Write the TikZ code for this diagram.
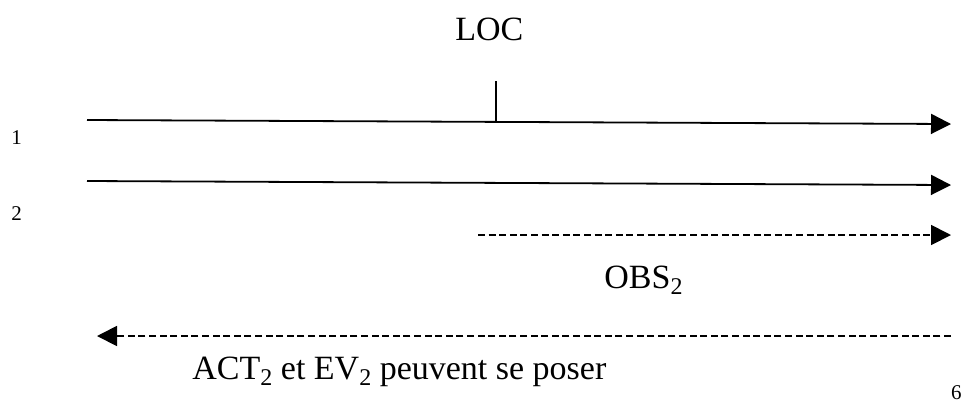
\documentclass[tikz,border=0pt]{standalone}
\usepackage{fontspec}
\setmainfont{Liberation Serif}
\usetikzlibrary{arrows.meta, positioning}
\newcommand\lowtwo[1]{\raisebox{-3pt}{\fontsize{12}{12}\selectfont #1}}
\tikzset{
	>={Triangle[length=10pt,width=10pt]},
	line/.style={draw, line width=0.9pt, ->},
	dashline/.style={line, dash pattern=on 3.5pt off 1.8pt},
	tick/.style={draw, line width=0.8pt},
	txt/.style={inner sep=0pt, anchor=base west, font=\fontsize{17}{19}\selectfont},
	num/.style={inner sep=0pt, anchor=base west, font=\fontsize{10.5}{12}\selectfont},
}
\begin{document}
\begin{tikzpicture}[x=0.5pt, y=-0.5pt]
	\useasboundingbox (0,0) rectangle (962,403);
	% lines
	\coordinate (l1s) at (87,120);
	\coordinate (l1e) at (951,124);
	\coordinate (l2s) at (87,181);
	\coordinate (l2e) at (951,185);
	\coordinate (obss) at (478,235);
	\coordinate (obse) at (951,235);
	\coordinate (acts) at (951,336);
	\coordinate (acte) at (97,336);
	\coordinate (loct) at (496,81);
	\coordinate (locb) at (496,122);

	\draw [line] (l1s) -- (l1e);
	\draw [line] (l2s) -- (l2e);
	\draw [dashline] (obss) -- (obse);
	\draw [dashline] (acts) -- (acte);
	\draw [tick] (loct) -- (locb);

	% labels
	\node [txt] (loc) at (455,40) {LOC};
	\node [txt] (obs) at (604,288) {OBS\lowtwo{2}};
	\node [txt] (act) at (192,379) {ACT\lowtwo{2} et EV\lowtwo{2} peuvent se poser};
	\node [num] (n1) at (11,144) {1};
	\node [num] (n2) at (11,220) {2};
	\node [num, anchor=base east] (n6) at (962,399) {6};
\end{tikzpicture}
\end{document}
